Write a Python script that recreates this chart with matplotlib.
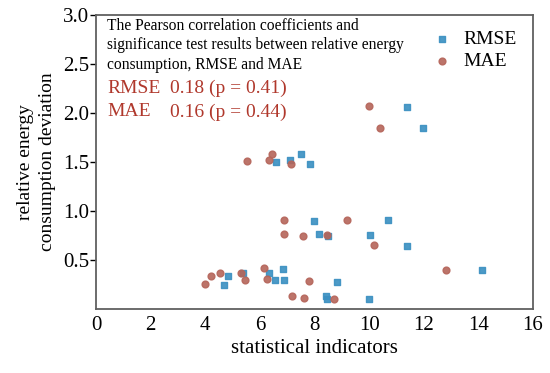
import numpy as np
import matplotlib.pyplot as plt

plt.rcParams['font.family'] = ['Liberation Serif', 'DejaVu Serif']

# RMSE points (statistical indicator, relative energy consumption deviation)
rmse_x = [11.4, 11.99, 6.58, 7.11, 7.51, 7.85, 7.98, 10.7, 8.16, 8.5, 10.04, 11.39,
          14.14, 4.82, 4.69, 5.37, 6.34, 6.57, 6.86, 6.87, 8.84, 8.44, 8.45, 9.98]
rmse_y = [2.064, 1.85, 1.503, 1.517, 1.578, 1.476, 0.901, 0.911, 0.76, 0.74, 0.755, 0.646,
          0.395, 0.333, 0.248, 0.364, 0.367, 0.296, 0.41, 0.296, 0.279, 0.13, 0.099, 0.102]

# MAE points
mae_x = [9.99, 10.39, 5.52, 6.45, 6.34, 7.14, 6.9, 9.18, 6.9, 7.57, 8.47, 10.17,
         12.82, 3.99, 4.2, 4.54, 5.3, 5.45, 6.15, 6.25, 7.81, 7.19, 7.63, 8.7]
mae_y = [2.068, 1.85, 1.507, 1.585, 1.517, 1.476, 0.908, 0.911, 0.765, 0.745, 0.758, 0.65,
         0.398, 0.252, 0.337, 0.367, 0.37, 0.3, 0.415, 0.303, 0.282, 0.136, 0.109, 0.105]

xticks = [0, 2, 4, 6, 8, 10, 12, 14, 16]
yticks = [0.5, 1.0, 1.5, 2.0, 2.5, 3.0]

fig = plt.figure(figsize=(5.5, 3.73), dpi=100)
ax = fig.add_axes([0.1745, 0.1716, 0.7945, 0.7884])

ax.scatter(rmse_x, rmse_y, marker='s', s=22, color='#3a8fc1', alpha=0.9, label='RMSE', zorder=3)
ax.scatter(mae_x, mae_y, marker='o', s=24, color='#b5655a', alpha=0.9, label='MAE', zorder=3)

ax.set_xlim(0, 16)
ax.set_ylim(0, 3.0)
ax.set_xticks(xticks)
ax.set_yticks(yticks)
ax.tick_params(axis='both', labelsize=15)
ax.tick_params(axis='x', length=0, pad=5)
ax.tick_params(axis='y', length=4, direction='out', width=1, pad=1)
for s in ax.spines.values():
    s.set_color('#606060')
    s.set_linewidth(1.3)

ax.set_xlabel('statistical indicators', fontsize=15, labelpad=3)
ax.set_ylabel('relative energy\nconsumption deviation', fontsize=14, labelpad=5, linespacing=1.35)

ax.text(0.025, 0.99, 'The Pearson correlation coefficients and\n'
        'significance test results between relative energy\n'
        'consumption, RMSE and MAE',
        transform=ax.transAxes, fontsize=11.2, va='top', ha='left', linespacing=1.3)
red = '#b0382c'
ax.text(0.025, 0.75, 'RMSE', transform=ax.transAxes, fontsize=14, color=red, va='center')
ax.text(0.17, 0.75, '0.18 (p = 0.41)', transform=ax.transAxes, fontsize=14, color=red, va='center')
ax.text(0.025, 0.67, 'MAE', transform=ax.transAxes, fontsize=14, color=red, va='center')
ax.text(0.17, 0.67, '0.16 (p = 0.44)', transform=ax.transAxes, fontsize=14, color=red, va='center')

ax.legend(loc='upper right', frameon=False, fontsize=14, handletextpad=0.6,
          borderaxespad=0.3, labelspacing=0.25, handlelength=1.0, bbox_to_anchor=(0.995, 0.995))

fig.savefig('out.png', dpi=100)
